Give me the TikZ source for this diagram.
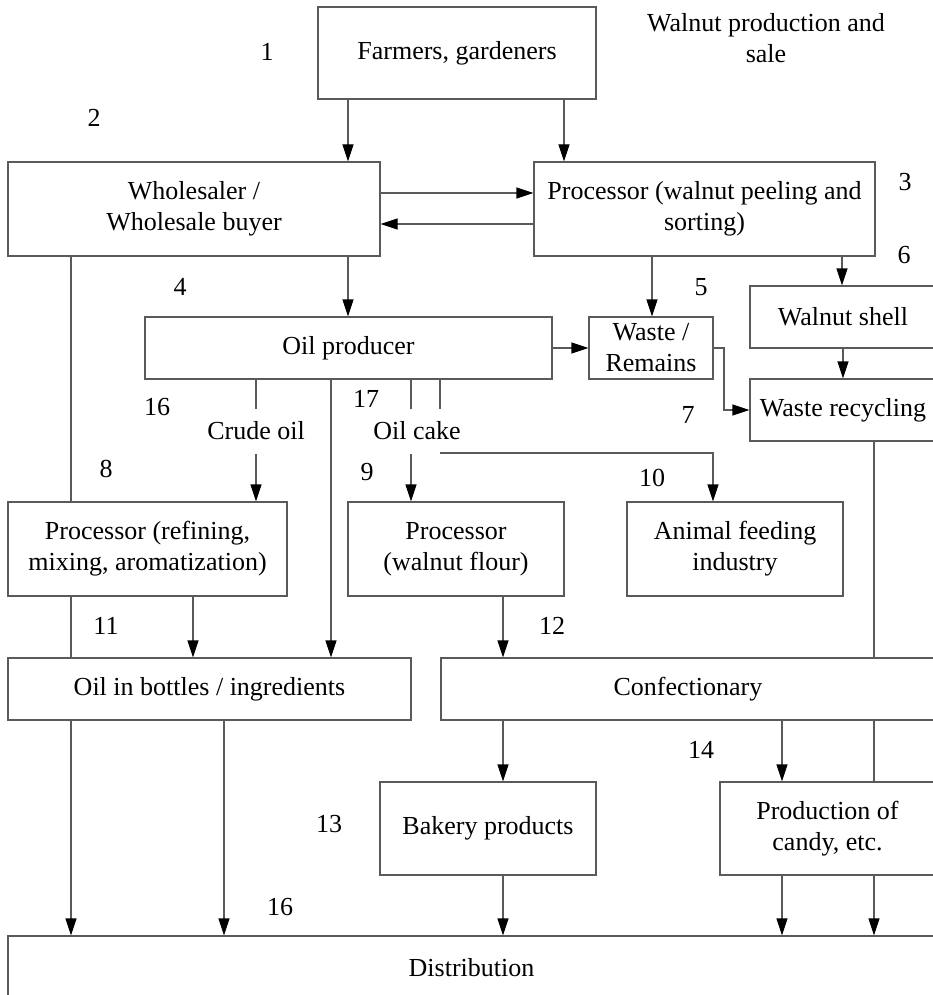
\documentclass[tikz,border=0pt]{standalone}
\usepackage{fontspec}
\setmainfont{Liberation Serif}
\usetikzlibrary{arrows.meta}
\definecolor{linegray}{RGB}{90,90,90}
\begin{document}
\begin{tikzpicture}[x=1pt,y=-1pt,
  ln/.style={draw=linegray, line width=1.1pt},
  box/.style={ln, rectangle, inner sep=0pt, align=center, font=\fontsize{26}{31}\selectfont},
  lbl/.style={inner sep=0pt, align=center, font=\fontsize{26}{31}\selectfont},
  arr/.style={ln, -{Triangle[length=17pt,width=11pt,color=black]}}]
\path[use as bounding box] (0,0) rectangle (933,995);
\begin{scope}
\clip (0,0) rectangle (933,995);
% boxes
\node[box, minimum width=278pt, minimum height=92pt] (farm) at (457,53) {Farmers, gardeners};
\node[box, minimum width=372pt, minimum height=94pt] (whole) at (194,209) {Wholesaler /\\Wholesale buyer};
\node[box, minimum width=341pt, minimum height=94pt] (procA) at (704.5,209) {Processor (walnut peeling and\\sorting)};
\node[box, minimum width=407pt, minimum height=62pt] (oilp) at (348.5,348) {Oil producer};
\node[box, minimum width=124pt, minimum height=62pt] (waste) at (651,348) {Waste /\\Remains};
\node[box, minimum width=186pt, minimum height=62pt] (shell) at (843,317) {Walnut shell};
\node[box, minimum width=186pt, minimum height=62pt] (recyc) at (843,410) {Waste recycling};
\node[box, minimum width=279pt, minimum height=94pt] (procB) at (147.5,549) {Processor (refining,\\mixing, aromatization)};
\node[box, minimum width=216pt, minimum height=94pt] (flour) at (456,549) {Processor\\(walnut flour)};
\node[box, minimum width=216pt, minimum height=94pt] (feed) at (735,549) {Animal feeding\\industry};
\node[box, minimum width=403pt, minimum height=62pt] (bottles) at (209.5,689) {Oil in bottles / ingredients};
\node[box, minimum width=494pt, minimum height=62pt] (conf) at (688,689) {Confectionary};
\node[box, minimum width=216pt, minimum height=93pt] (bakery) at (488,828.5) {Bakery products};
\node[box, minimum width=215pt, minimum height=93pt] (candy) at (827.5,828.5) {Production of\\candy, etc.};
\node[box, minimum width=927pt, minimum height=64pt] (dist) at (471.5,968) {Distribution};
% title and labels
\node[lbl] (title) at (766,38.5) {Walnut production and\\sale};
\node[lbl] (crude) at (256,431) {Crude oil};
\node[lbl] (cake) at (417,431) {Oil cake};
\node[lbl] (n1) at (267,52) {1};
\node[lbl] (n2) at (94,118) {2};
\node[lbl] (n3) at (905,182) {3};
\node[lbl] (n6) at (904,255) {6};
\node[lbl] (n4) at (180,287) {4};
\node[lbl] (n5) at (701,287) {5};
\node[lbl] (n16a) at (157,407) {16};
\node[lbl] (n17) at (366,399) {17};
\node[lbl] (n7) at (688,415) {7};
\node[lbl] (n8) at (106,469) {8};
\node[lbl] (n9) at (367,472) {9};
\node[lbl] (n10) at (652,478) {10};
\node[lbl] (n11) at (106,626) {11};
\node[lbl] (n12) at (552,626) {12};
\node[lbl] (n14) at (701,750) {14};
\node[lbl] (n13) at (329,824) {13};
\node[lbl] (n16b) at (280,907) {16};
% helper coordinates
\coordinate (wbend) at (724,380);
\coordinate (crudeTop) at (256,409);
\coordinate (crudeBot) at (256,454);
\coordinate (cakeTopA) at (411,409);
\coordinate (cakeTopB) at (440,409);
\coordinate (cakeBotA) at (411,454);
\coordinate (cakeBotB) at (440,453);
% connectors
\draw[arr] (348,0 |- farm.south) -- (348,0 |- whole.north);
\draw[arr] (564,0 |- farm.south) -- (564,0 |- procA.north);
\draw[arr] (0,193 -| whole.east) -- (0,193 -| procA.west);
\draw[arr] (0,224 -| procA.west) -- (0,224 -| whole.east);
\draw[arr] (348,0 |- whole.south) -- (348,0 |- oilp.north);
\draw[arr] (652,0 |- procA.south) -- (652,0 |- waste.north);
\draw[arr] (842,0 |- procA.south) -- (842,0 |- shell.north);
\draw[arr] (oilp.east) -- (waste.west);
\draw[arr] (waste.east) -| (wbend) |- (recyc.west);
\draw[arr] (shell.south) -- (recyc.north);
% left trunk
\draw[ln] (71,0 |- whole.south) -- (71,0 |- procB.north);
\draw[ln] (71,0 |- procB.south) -- (71,0 |- bottles.north);
\draw[arr] (71,0 |- bottles.south) -- (71,0 |- dist.north);
% crude oil
\draw[ln] (256,0 |- oilp.south) -- (crudeTop);
\draw[arr] (crudeBot) -- (256,0 |- procB.north);
\draw[arr] (331,0 |- oilp.south) -- (331,0 |- bottles.north);
% oil cake
\draw[ln] (411,0 |- oilp.south) -- (cakeTopA);
\draw[ln] (440,0 |- oilp.south) -- (cakeTopB);
\draw[arr] (cakeBotA) -- (411,0 |- flour.north);
\draw[arr] (cakeBotB) -| (713,0 |- feed.north);
% middle row down
\draw[arr] (193,0 |- procB.south) -- (193,0 |- bottles.north);
\draw[arr] (503,0 |- flour.south) -- (503,0 |- conf.north);
% right trunk
\draw[ln] (874,0 |- recyc.south) -- (874,0 |- conf.north);
\draw[ln] (874,0 |- conf.south) -- (874,0 |- candy.north);
\draw[arr] (874,0 |- candy.south) -- (874,0 |- dist.north);
% lower
\draw[arr] (224,0 |- bottles.south) -- (224,0 |- dist.north);
\draw[arr] (503,0 |- conf.south) -- (503,0 |- bakery.north);
\draw[arr] (782,0 |- conf.south) -- (782,0 |- candy.north);
\draw[arr] (503,0 |- bakery.south) -- (503,0 |- dist.north);
\draw[arr] (782,0 |- candy.south) -- (782,0 |- dist.north);
\end{scope}
\end{tikzpicture}
\end{document}
